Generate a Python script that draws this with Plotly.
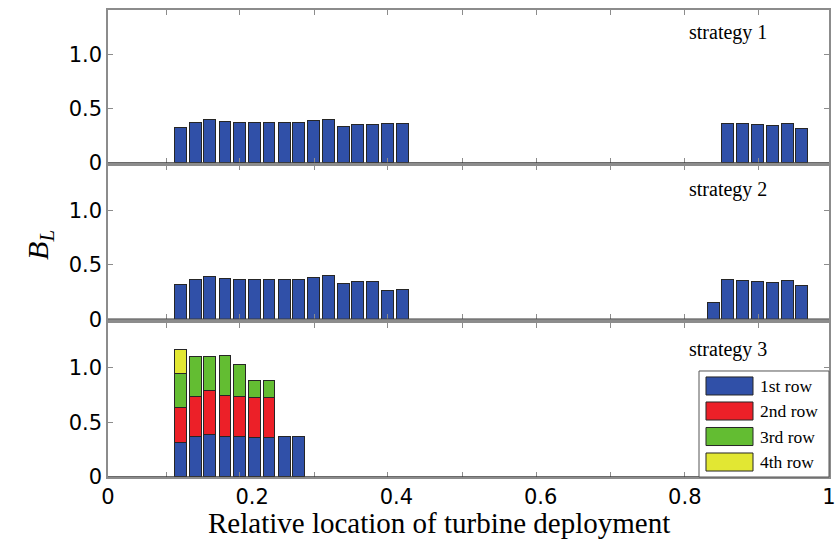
import plotly.graph_objects as go
from plotly.subplots import make_subplots

# Relative location (0-1) of each turbine slot along the deployment line
loc_west = [0.101, 0.122, 0.142, 0.163, 0.183, 0.204, 0.224, 0.245,
            0.265, 0.286, 0.306, 0.327, 0.347, 0.368, 0.388, 0.409]
loc_east = [0.840, 0.860, 0.881, 0.901, 0.922, 0.943, 0.963]

# Strategy 1: single row, west and east sites
s1_loc = loc_west + loc_east[1:]
s1_val = [0.32, 0.366, 0.394, 0.373, 0.366, 0.366, 0.366, 0.366, 0.366,
          0.384, 0.396, 0.33, 0.345, 0.347, 0.356, 0.359,
          0.362, 0.353, 0.347, 0.338, 0.356, 0.31]

# Strategy 2: single row, shortened west site, extended east site
s2_loc = loc_west + loc_east
s2_val = [0.32, 0.366, 0.394, 0.373, 0.366, 0.366, 0.366, 0.366, 0.366,
          0.384, 0.396, 0.33, 0.345, 0.347, 0.267, 0.27,
          0.152, 0.362, 0.353, 0.347, 0.338, 0.356, 0.31]

# Strategy 3: multi-row arrays at the west site (stacked contributions)
row_names = ["1st row", "2nd row", "3rd row", "4th row"]
row_colors = ["#3050A8", "#EC2028", "#63BD32", "#E2E733"]
s3_loc = [loc_west[:9], loc_west[:7], loc_west[:7], loc_west[:1]]
s3_val = [
    [0.312, 0.364, 0.389, 0.367, 0.364, 0.36, 0.36, 0.364, 0.364],
    [0.318, 0.365, 0.395, 0.371, 0.365, 0.365, 0.365],
    [0.317, 0.367, 0.312, 0.37, 0.296, 0.152, 0.152],
    [0.213],
]

strategy_labels = ["strategy 1", "strategy 2", "strategy 3"]
x_labels = ["0", "0.2", "0.4", "0.6", "0.8", "1"]
x_label_vals = [0, 0.2, 0.4, 0.6, 0.8, 1.0]
# tick marks every fifth turbine slot
slot_ticks = [0.0806, 0.183, 0.286, 0.388, 0.491, 0.594, 0.697, 0.799, 0.902]

BAR_W = 0.0165
EDGE = dict(color="#262626", width=1)
FRAME = "#8c8c8c"
SERIF = "Liberation Serif"
SANS = "DejaVu Sans"

fig = make_subplots(rows=3, cols=1)

fig.add_trace(go.Bar(x=s1_loc, y=s1_val, width=BAR_W, marker=dict(color=row_colors[0], line=EDGE),
                     showlegend=False), row=1, col=1)
fig.add_trace(go.Bar(x=s2_loc, y=s2_val, width=BAR_W, marker=dict(color=row_colors[0], line=EDGE),
                     showlegend=False), row=2, col=1)
for name, color, xs, ys in zip(row_names, row_colors, s3_loc, s3_val):
    fig.add_trace(go.Bar(x=xs, y=ys, name=name, width=BAR_W,
                         marker=dict(color=color, line=EDGE), showlegend=False), row=3, col=1)

domains = [[0.673, 1.0], [0.338, 0.667], [0.0, 0.33]]
for i in range(3):
    sfx = "" if i == 0 else str(i + 1)
    fig.layout["xaxis" + sfx].update(
        domain=[0, 1], range=[0, 1], showline=True, linecolor=FRAME, linewidth=1.5,
        mirror="allticks", showgrid=False, zeroline=False, automargin=False,
        tickmode="array", tickvals=x_label_vals, ticktext=x_labels, ticks="",
        showticklabels=(i == 2), tickfont=dict(family=SANS, size=21, color="black"),
        minor=dict(tickmode="array", tickvals=slot_ticks, ticks="inside", ticklen=5,
                   tickwidth=1.2, tickcolor=FRAME, showgrid=False),
    )
    fig.layout["yaxis" + sfx].update(
        domain=domains[i], range=[0, 1.41], showline=True, linecolor=FRAME, linewidth=1.5,
        mirror="ticks", showgrid=False, zeroline=False, automargin=False,
        tickmode="array", tickvals=[0, 0.5, 1.0], ticktext=["0", "0.5", "1.0"],
        ticks="inside", ticklen=5, tickwidth=1.2, tickcolor=FRAME,
        tickfont=dict(family=SANS, size=21, color="black"),
    )
    # dark baseline at B_L = 0
    fig.add_shape(type="line", xref="x" + sfx + " domain", yref="y" + sfx,
                  x0=0, x1=1, y0=0, y1=0, line=dict(color="#3a3a3a", width=1.5), layer="above")
    fig.add_annotation(text=strategy_labels[i], xref="x" + sfx + " domain", yref="y" + sfx + " domain",
                       x=0.86, y=[0.855, 0.845, 0.83][i], xanchor="center", yanchor="middle",
                       showarrow=False, font=dict(family=SERIF, size=20, color="black"))

# legend box for the row colours
fig.add_shape(type="rect", xref="paper", yref="paper", x0=0.8197, x1=1.0, y0=0.0, y1=0.227,
              line=dict(color="#555555", width=1), fillcolor="white", layer="above")
for k, (name, color) in enumerate(zip(row_names, row_colors)):
    yc = [0.1949, 0.1413, 0.0867, 0.0321][k]
    fig.add_shape(type="rect", xref="paper", yref="paper", x0=0.8294, x1=0.8946,
                  y0=yc - 0.0193, y1=yc + 0.0193, line=dict(color="#262626", width=1),
                  fillcolor=color, layer="above")
    fig.add_annotation(text=name, xref="paper", yref="paper", x=0.9015, y=yc,
                       xanchor="left", yanchor="middle", showarrow=False,
                       font=dict(family=SERIF, size=17.5, color="black"))

fig.add_annotation(text="Relative location of turbine deployment", xref="paper", yref="paper",
                   x=0.459, y=-0.0985, xanchor="center", yanchor="middle", showarrow=False,
                   font=dict(family=SERIF, size=29, color="black"))
fig.add_annotation(text="<i>B</i><sub><i>L</i></sub>", xref="paper", yref="paper",
                   x=-0.0943, y=0.497, xanchor="center", yanchor="middle", textangle=-90,
                   showarrow=False, font=dict(family=SERIF, size=30, color="black"))

fig.update_layout(
    width=839, height=544, barmode="stack", bargap=0,
    margin=dict(l=108, r=10, t=10, b=67, autoexpand=False),
    plot_bgcolor="white", paper_bgcolor="white",
)

fig.write_html("out.html")
